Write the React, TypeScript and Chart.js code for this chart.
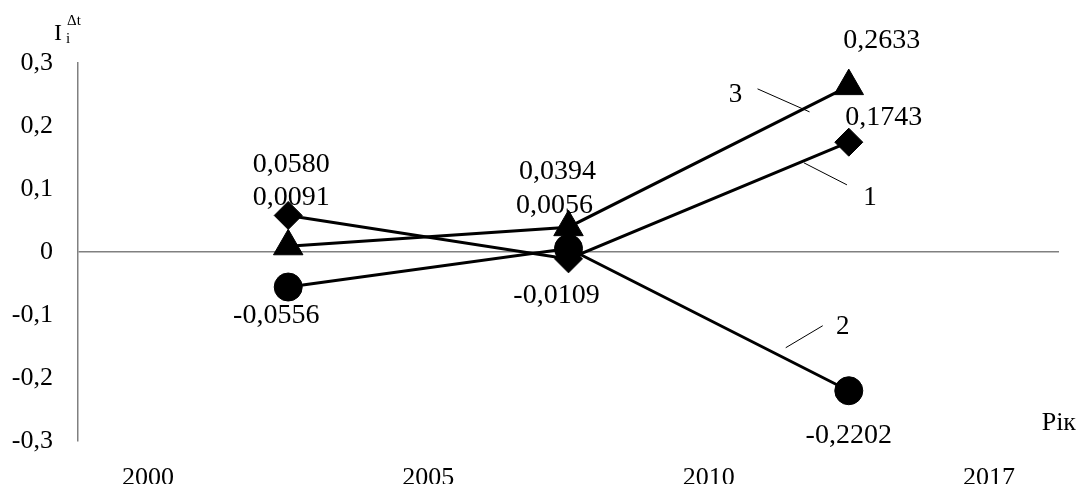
import React, { useEffect, useRef } from 'react';
import Chart from 'chart.js/auto';

const xTickValues = [0, 1, 2, 3];
const xTickLabels = ['2000', '2005', '2010', '2017'];
const yTickValues = [-0.3, -0.2, -0.1, 0, 0.1, 0.2, 0.3];
const yTickLabels = ['-0,3', '-0,2', '-0,1', '0', '0,1', '0,2', '0,3'];
const pointX = [0.5, 1.5, 2.5];
const series1 = [0.058, -0.0109, 0.1743];
const series2 = [-0.0556, 0.0056, -0.2202];
const series3 = [0.0091, 0.0394, 0.2633];
const seriesNames = ['1', '2', '3'];
const yTitleMain = 'I';
const yTitleSub = 'i';
const yTitleSup = 'Δt';
const xTitle = 'Рік';

const FONT = '"Liberation Serif", "Times New Roman", serif';

// label offsets (px) from each point: [dx, dy to baseline]
const labelOffsets = [
  [[3, -43.5], [-12, 44], [35, -17]],
  [[-12, 36], [-14, -35.5], [0, 52]],
  [[3, -41], [-11, -48], [33, -38]],
];
// leader annotations: dataset index, fraction along last segment, start offset, end offset, text position
const leaders = [
  { ds: 0, t: 0.84, s: [0, 2], e: [43, 24], tx: [66, 44] },
  { ds: 1, t: 0.775, s: [0, -11], e: [37, -33], tx: [57, -25] },
  { ds: 2, t: 0.86, s: [0, 6], e: [-52, -17], tx: [-74, -4] },
];

const fmt = (v: number) => v.toFixed(4).replace('.', ',');

const annotPlugin = {
  id: 'annot',
  afterDatasetsDraw(chart: any) {
    const ctx = chart.ctx;
    ctx.save();
    ctx.fillStyle = '#000';
    ctx.textAlign = 'center';
    ctx.textBaseline = 'alphabetic';
    ctx.font = `28px ${FONT}`;
    const all = [series1, series2, series3];
    all.forEach((s, di) => {
      const meta = chart.getDatasetMeta(di);
      s.forEach((v, j) => {
        const p = meta.data[j];
        const [dx, dy] = labelOffsets[di][j];
        ctx.fillText(fmt(v), p.x + dx, p.y + dy);
      });
    });
    // leaders
    ctx.strokeStyle = '#000';
    ctx.lineWidth = 1;
    leaders.forEach((l) => {
      const meta = chart.getDatasetMeta(l.ds);
      const a = meta.data[1];
      const b = meta.data[2];
      const ax = a.x + (b.x - a.x) * l.t;
      const ay = a.y + (b.y - a.y) * l.t;
      ctx.beginPath();
      ctx.moveTo(ax + l.s[0], ay + l.s[1]);
      ctx.lineTo(ax + l.e[0], ay + l.e[1]);
      ctx.stroke();
      ctx.font = `27px ${FONT}`;
      ctx.fillText(seriesNames[l.ds], ax + l.tx[0], ay + l.tx[1]);
    });
    // axis titles
    const ca = chart.chartArea;
    ctx.textAlign = 'left';
    ctx.font = `24px ${FONT}`;
    ctx.fillText(yTitleMain, ca.left - 24, ca.top - 23);
    ctx.font = `15px ${FONT}`;
    ctx.fillText(yTitleSub, ca.left - 12, ca.top - 20);
    ctx.fillText(yTitleSup, ca.left - 11, ca.top - 38);
    ctx.textAlign = 'right';
    ctx.font = `26px ${FONT}`;
    ctx.fillText(xTitle, chart.width - 1, ca.bottom - 11);
    ctx.restore();
  },
};

export default function App() {
  const ref = useRef<HTMLCanvasElement>(null);
  useEffect(() => {
    if (!ref.current) return;
    const mk = (s: number[]) => s.map((y, i) => ({ x: pointX[i], y }));
    const common = {
      borderColor: '#000',
      borderWidth: 3,
      pointBackgroundColor: '#000',
      pointBorderColor: '#000',
      pointBorderWidth: 1,
      showLine: true,
      fill: false,
      tension: 0,
    };
    const chart = new Chart(ref.current, {
      type: 'line',
      data: {
        datasets: [
          { ...common, label: seriesNames[0], data: mk(series1), pointStyle: 'rectRot', pointRadius: 14 },
          { ...common, label: seriesNames[1], data: mk(series2), pointStyle: 'circle', pointRadius: 14 },
          { ...common, label: seriesNames[2], data: mk(series3), pointStyle: 'triangle', pointRadius: 17 },
        ],
      },
      options: {
        responsive: false,
        animation: false,
        layout: { padding: { top: 63, right: 7, bottom: 0, left: 0 } },
        plugins: { legend: { display: false }, tooltip: { enabled: false } },
        scales: {
          x: {
            type: 'linear',
            min: -0.25,
            max: 3.25,
            grid: { display: false },
            border: { display: false },
            afterBuildTicks: (scale: any) => {
              scale.ticks = xTickValues.map((v) => ({ value: v }));
            },
            afterFit: (scale: any) => {
              scale.height = 43;
            },
            ticks: {
              color: '#000',
              font: { family: FONT, size: 26 },
              padding: 14,
              maxRotation: 0,
              autoSkip: false,
              callback: (_v: any, i: number) => xTickLabels[i],
            },
          },
          y: {
            type: 'linear',
            min: -0.3,
            max: 0.3,
            afterBuildTicks: (scale: any) => {
              scale.ticks = yTickValues.map((v) => ({ value: v }));
            },
            afterFit: (scale: any) => {
              scale.width = 78;
            },
            grid: {
              drawTicks: false,
              lineWidth: 1.5,
              color: (c: any) => (c.tick && Math.abs(c.tick.value) < 1e-9 ? '#808080' : 'rgba(0,0,0,0)'),
            },
            border: { display: true, color: '#808080', width: 1.5 },
            ticks: {
              color: '#000',
              font: { family: FONT, size: 26 },
              padding: 25,
              autoSkip: false,
              callback: (_v: any, i: number) => yTickLabels[i],
            },
          },
        },
      },
      plugins: [annotPlugin],
    } as any);
    return () => chart.destroy();
  }, []);
  return (
    <div style={{ position: 'absolute', left: 0, top: 0, width: 1077, height: 484, background: '#fff' }}>
      <canvas ref={ref} width={1077} height={484} style={{ display: 'block' }} />
    </div>
  );
}
